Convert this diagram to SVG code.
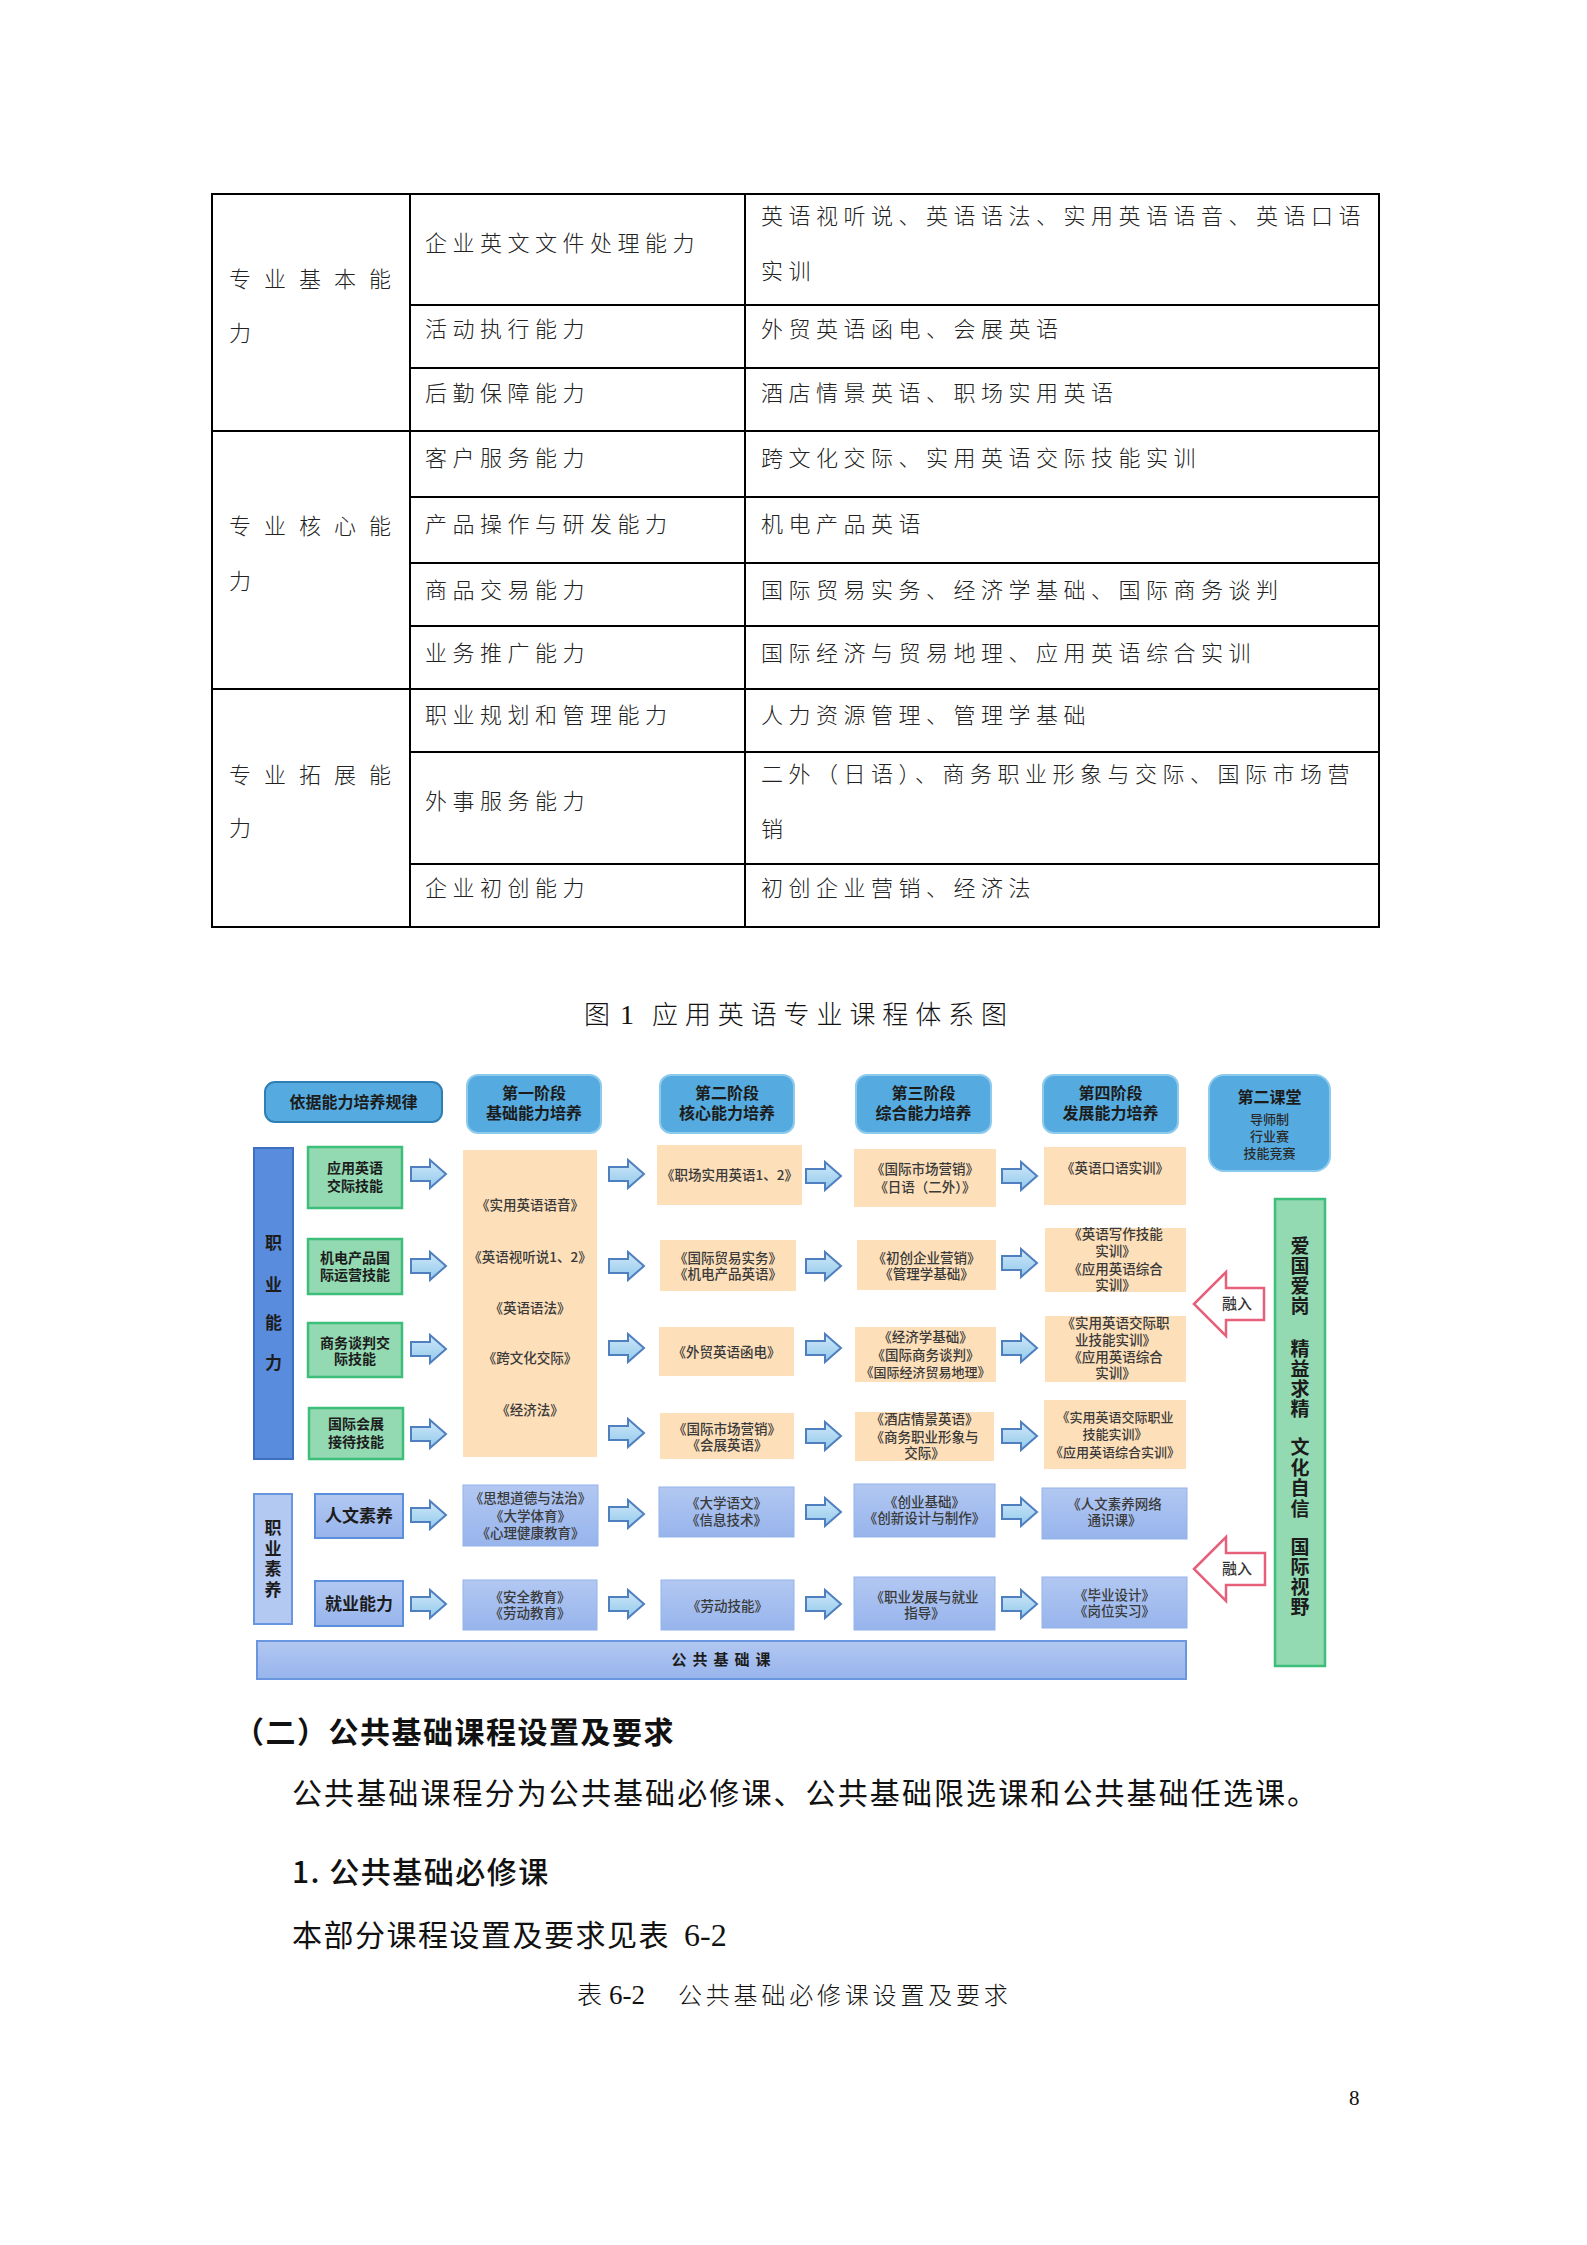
<svg xmlns="http://www.w3.org/2000/svg" xmlns:xlink="http://www.w3.org/1999/xlink" width="1587" height="2245" viewBox="0 0 1587 2245">
<defs>
<style>
.tbl{font-family:"Noto Sans CJK SC","Noto Sans",sans-serif;font-size:22px;font-weight:300;fill:#222;letter-spacing:5.5px}
.c1{letter-spacing:13px}
.hd{font-family:"Noto Sans CJK SC",sans-serif;font-size:16px;font-weight:700;fill:#1c1c1c;text-anchor:middle}
.sm{font-family:"Noto Sans CJK SC",sans-serif;font-size:13px;font-weight:500;fill:#2a2a2a;text-anchor:middle}
.gb{font-family:"Noto Sans CJK SC",sans-serif;font-size:14px;font-weight:700;fill:#1c1c1c;text-anchor:middle}
.cs{font-family:"Noto Sans CJK SC",sans-serif;font-size:13.5px;font-weight:500;fill:#3a3a3a;text-anchor:middle}
.cs13{font-size:13px}
.vt{font-family:"Noto Sans CJK SC",sans-serif;font-size:17px;font-weight:700;fill:#1c1c1c;text-anchor:middle}
.vv{font-family:"Noto Sans CJK SC",sans-serif;font-weight:700;fill:#1c1c1c;writing-mode:vertical-rl}
.body{font-family:"Noto Sans CJK SC",sans-serif;font-size:30px;font-weight:400;fill:#111}
.head{fill:#55abdf;stroke:#8ccaee;stroke-width:2}
.peach{fill:#fddfb9}
.bluebox{fill:url(#gBlue);stroke:#93b3ea;stroke-width:1}
.green{fill:#93d9b2;stroke:#3dbe7a;stroke-width:2.5}
.arr{fill:url(#gArr);stroke:#4f7fbf;stroke-width:2;stroke-linejoin:miter}
.pink{fill:#fff;stroke:#e6607c;stroke-width:2.5}
.rr{font-family:"Noto Sans CJK SC",sans-serif;font-size:15px;font-weight:500;fill:#333;text-anchor:middle}
</style>
<linearGradient id="gBlue" x1="0" y1="0" x2="0" y2="1"><stop offset="0" stop-color="#b2c8f2"/><stop offset="1" stop-color="#97b4ec"/></linearGradient>
<linearGradient id="gArr" x1="0" y1="0" x2="0" y2="1"><stop offset="0" stop-color="#cfe8f8"/><stop offset="1" stop-color="#92c9ec"/></linearGradient>
<path id="bArrow" class="arr" d="M0,-7 H19 V-14 L35,0 L19,14 V7 H0 Z"/>
</defs>
<rect width="1587" height="2245" fill="#fff"/>

<!-- Table -->
<g id="table" stroke="#000" stroke-width="2" fill="none">
<rect x="212" y="194" width="1167" height="733"/>
<line x1="410" y1="194" x2="410" y2="927"/>
<line x1="745" y1="194" x2="745" y2="927"/>
<line x1="212" y1="431" x2="1379" y2="431"/>
<line x1="212" y1="689" x2="1379" y2="689"/>
<line x1="410" y1="305" x2="1379" y2="305"/>
<line x1="410" y1="368" x2="1379" y2="368"/>
<line x1="410" y1="497" x2="1379" y2="497"/>
<line x1="410" y1="563" x2="1379" y2="563"/>
<line x1="410" y1="626" x2="1379" y2="626"/>
<line x1="410" y1="752" x2="1379" y2="752"/>
<line x1="410" y1="864" x2="1379" y2="864"/>
</g>
<g id="table-text">
<text class="tbl c1" x="229" y="287">专业基本能</text>
<text class="tbl" x="229" y="341">力</text>
<text class="tbl c1" x="229" y="534">专业核心能</text>
<text class="tbl" x="229" y="589">力</text>
<text class="tbl c1" x="229" y="783">专业拓展能</text>
<text class="tbl" x="229" y="836">力</text>
<text class="tbl" x="425" y="251">企业英文文件处理能力</text>
<text class="tbl" x="425" y="337">活动执行能力</text>
<text class="tbl" x="425" y="401">后勤保障能力</text>
<text class="tbl" x="425" y="466">客户服务能力</text>
<text class="tbl" x="425" y="532">产品操作与研发能力</text>
<text class="tbl" x="425" y="598">商品交易能力</text>
<text class="tbl" x="425" y="661">业务推广能力</text>
<text class="tbl" x="425" y="723">职业规划和管理能力</text>
<text class="tbl" x="425" y="809">外事服务能力</text>
<text class="tbl" x="425" y="896">企业初创能力</text>
<text class="tbl" x="761" y="224">英语视听说、英语语法、实用英语语音、英语口语</text>
<text class="tbl" x="761" y="279">实训</text>
<text class="tbl" x="761" y="337">外贸英语函电、会展英语</text>
<text class="tbl" x="761" y="401">酒店情景英语、职场实用英语</text>
<text class="tbl" x="761" y="466">跨文化交际、实用英语交际技能实训</text>
<text class="tbl" x="761" y="532">机电产品英语</text>
<text class="tbl" x="761" y="598">国际贸易实务、经济学基础、国际商务谈判</text>
<text class="tbl" x="761" y="661">国际经济与贸易地理、应用英语综合实训</text>
<text class="tbl" x="761" y="723">人力资源管理、管理学基础</text>
<text class="tbl" x="761" y="782">二外（日语）、商务职业形象与交际、国际市场营</text>
<text class="tbl" x="761" y="837">销</text>
<text class="tbl" x="761" y="896">初创企业营销、经济法</text>
</g>

<!-- Figure title -->
<g id="fig-title" fill="#111">
<text x="584" y="1024" style="font-family:'Noto Sans CJK SC',sans-serif;font-size:26px;font-weight:300">图</text>
<text x="620" y="1024" style="font-family:'Liberation Serif',serif;font-size:28px">1</text>
<text x="652" y="1024" style="font-family:'Noto Sans CJK SC',sans-serif;font-size:26px;font-weight:300;letter-spacing:6.9px">应用英语专业课程体系图</text>
</g>

<!-- Diagram nodes -->
<g id="n-basis"><rect x="265" y="1082" width="177" height="40" rx="10" fill="#55abdf" stroke="#2f7fb5" stroke-width="2"/><text class="hd" x="353.5" y="1108">依据能力培养规律</text></g>
<g id="n-stage1"><rect class="head" x="467" y="1075" width="134" height="58" rx="11"/><text class="hd" x="534" y="1099">第一阶段</text><text class="hd" x="534" y="1119">基础能力培养</text></g>
<g id="n-stage2"><rect class="head" x="660" y="1075" width="134" height="58" rx="11"/><text class="hd" x="727" y="1099">第二阶段</text><text class="hd" x="727" y="1119">核心能力培养</text></g>
<g id="n-stage3"><rect class="head" x="856" y="1075" width="135" height="58" rx="11"/><text class="hd" x="923.5" y="1099">第三阶段</text><text class="hd" x="923.5" y="1119">综合能力培养</text></g>
<g id="n-stage4"><rect class="head" x="1043" y="1075" width="135" height="58" rx="11"/><text class="hd" x="1110.5" y="1099">第四阶段</text><text class="hd" x="1110.5" y="1119">发展能力培养</text></g>
<g id="n-second"><rect class="head" x="1209" y="1075" width="121" height="96" rx="15"/><text class="hd" x="1269.5" y="1103">第二课堂</text><text class="sm" x="1269.5" y="1124">导师制</text><text class="sm" x="1269.5" y="1141">行业赛</text><text class="sm" x="1269.5" y="1158">技能竞赛</text></g>

<g id="n-zhiyenengli"><rect x="254" y="1148" width="39" height="311" fill="#5a8cdd" stroke="#3f6fc0" stroke-width="2"/><text class="vt" x="273.5" y="1249">职</text><text class="vt" x="273.5" y="1291">业</text><text class="vt" x="273.5" y="1329">能</text><text class="vt" x="273.5" y="1369">力</text></g>
<g id="n-zhiyesuyang"><rect x="254" y="1494" width="38" height="130" fill="#b3c9f2" stroke="#6a96e0" stroke-width="2"/><text class="vv" x="273" y="1519.5" style="font-size:17px;letter-spacing:3.5px">职业素养</text></g>

<g id="n-skill1"><rect class="green" x="308" y="1147" width="94" height="61"/><text class="gb" x="355" y="1173">应用英语</text><text class="gb" x="355" y="1191">交际技能</text></g>
<g id="n-skill2"><rect class="green" x="308" y="1239" width="94" height="55"/><text class="gb" x="355" y="1263">机电产品国</text><text class="gb" x="355" y="1280">际运营技能</text></g>
<g id="n-skill3"><rect class="green" x="308" y="1323" width="94" height="54"/><text class="gb" x="355" y="1348">商务谈判交</text><text class="gb" x="355" y="1364">际技能</text></g>
<g id="n-skill4"><rect class="green" x="309" y="1408" width="94" height="51"/><text class="gb" x="356" y="1429">国际会展</text><text class="gb" x="356" y="1447">接待技能</text></g>
<g id="n-renwen"><rect x="315" y="1494" width="88" height="44" fill="url(#gBlue)" stroke="#5b8fde" stroke-width="2"/><text class="vt" x="359" y="1522">人文素养</text></g>
<g id="n-jiuye"><rect x="315" y="1581" width="88" height="45" fill="url(#gBlue)" stroke="#5b8fde" stroke-width="2"/><text class="vt" x="359" y="1610">就业能力</text></g>

<g id="n-s1-main"><rect class="peach" x="463" y="1150" width="134" height="307"/>
<text class="cs" x="530" y="1210">《实用英语语音》</text><text class="cs" x="530" y="1262">《英语视听说1、2》</text><text class="cs" x="530" y="1313">《英语语法》</text><text class="cs" x="530" y="1363">《跨文化交际》</text><text class="cs" x="530" y="1415">《经济法》</text></g>
<g id="n-s1-r5"><rect class="bluebox" x="463" y="1485" width="135" height="61"/><text class="cs" x="530.5" y="1503">《思想道德与法治》</text><text class="cs" x="530.5" y="1521">《大学体育》</text><text class="cs" x="530.5" y="1538">《心理健康教育》</text></g>
<g id="n-s1-r6"><rect class="bluebox" x="463" y="1580" width="134" height="50"/><text class="cs" x="530" y="1602">《安全教育》</text><text class="cs" x="530" y="1618">《劳动教育》</text></g>

<g id="n-s2-r1"><rect class="peach" x="657" y="1145" width="145" height="60"/><text class="cs" x="729.5" y="1180">《职场实用英语1、2》</text></g>
<g id="n-s2-r2"><rect class="peach" x="660" y="1240" width="136" height="51"/><text class="cs"><tspan x="728" y="1263">《国际贸易实务》</tspan><tspan x="728" y="1279">《机电产品英语》</tspan></text></g>
<g id="n-s2-r3"><rect class="peach" x="659" y="1327" width="135" height="49"/><text class="cs" x="726.5" y="1357">《外贸英语函电》</text></g>
<g id="n-s2-r4"><rect class="peach" x="660" y="1413" width="134" height="46"/><text class="cs"><tspan x="727" y="1434">《国际市场营销》</tspan><tspan x="727" y="1450">《会展英语》</tspan></text></g>
<g id="n-s2-r5"><rect class="bluebox" x="659" y="1487" width="135" height="50"/><text class="cs" x="726.5" y="1508">《大学语文》</text><text class="cs" x="726.5" y="1525">《信息技术》</text></g>
<g id="n-s2-r6"><rect class="bluebox" x="661" y="1580" width="133" height="50"/><text class="cs" x="727.5" y="1611">《劳动技能》</text></g>

<g id="n-s3-r1"><rect class="peach" x="854" y="1149" width="142" height="58"/><text class="cs" x="925" y="1174">《国际市场营销》</text><text class="cs" x="925" y="1192">《日语（二外）》</text></g>
<g id="n-s3-r2"><rect class="peach" x="857" y="1240" width="139" height="50"/><text class="cs"><tspan x="926.5" y="1263">《初创企业营销》</tspan><tspan x="926.5" y="1279">《管理学基础》</tspan></text></g>
<g id="n-s3-r3"><rect class="peach" x="855" y="1327" width="141" height="55"/><text class="cs" x="925.5" y="1342">《经济学基础》</text><text class="cs" x="925.5" y="1360">《国际商务谈判》</text><text class="cs cs13" x="925.5" y="1377">《国际经济贸易地理》</text></g>
<g id="n-s3-r4"><rect class="peach" x="855" y="1412" width="139" height="49"/><text class="cs" x="924.5" y="1424">《酒店情景英语》</text><text class="cs" x="924.5" y="1442">《商务职业形象与</text><text class="cs" x="924.5" y="1458">交际》</text></g>
<g id="n-s3-r5"><rect class="bluebox" x="854" y="1484" width="141" height="53"/><text class="cs" x="924.5" y="1507">《创业基础》</text><text class="cs" x="924.5" y="1523">《创新设计与制作》</text></g>
<g id="n-s3-r6"><rect class="bluebox" x="854" y="1577" width="141" height="53"/><text class="cs" x="924.5" y="1602">《职业发展与就业</text><text class="cs" x="924.5" y="1618">指导》</text></g>

<g id="n-s4-r1"><rect class="peach" x="1044" y="1147" width="142" height="58"/><text class="cs" x="1115" y="1173">《英语口语实训》</text></g>
<g id="n-s4-r2"><rect class="peach" x="1045" y="1228" width="141" height="64"/><text class="cs" x="1115.5" y="1239">《英语写作技能</text><text class="cs" x="1115.5" y="1256">实训》</text><text class="cs" x="1115.5" y="1274">《应用英语综合</text><text class="cs" x="1115.5" y="1290">实训》</text></g>
<g id="n-s4-r3"><rect class="peach" x="1045" y="1316" width="141" height="66"/><text class="cs" x="1115.5" y="1328">《实用英语交际职</text><text class="cs" x="1115.5" y="1345">业技能实训》</text><text class="cs" x="1115.5" y="1362">《应用英语综合</text><text class="cs" x="1115.5" y="1378">实训》</text></g>
<g id="n-s4-r4"><rect class="peach" x="1044" y="1400" width="142" height="69"/><text class="cs cs13" x="1115" y="1422">《实用英语交际职业</text><text class="cs cs13" x="1115" y="1439">技能实训》</text><text class="cs cs13" x="1115" y="1457">《应用英语综合实训》</text></g>
<g id="n-s4-r5"><rect class="bluebox" x="1042" y="1488" width="145" height="51"/><text class="cs" x="1114.5" y="1509">《人文素养网络</text><text class="cs" x="1114.5" y="1525">通识课》</text></g>
<g id="n-s4-r6"><rect class="bluebox" x="1042" y="1577" width="145" height="51"/><text class="cs" x="1114.5" y="1600">《毕业设计》</text><text class="cs" x="1114.5" y="1616">《岗位实习》</text></g>

<g id="n-public"><rect x="257" y="1641" width="929" height="38" fill="url(#gBlue)" stroke="#6a96e0" stroke-width="2"/><text class="hd" x="724" y="1665" style="font-size:15px;letter-spacing:6px">公共基础课</text></g>

<g id="n-values"><rect x="1275" y="1199" width="50" height="467" fill="#93d9b2" stroke="#3dbe7a" stroke-width="2.5"/>
<text class="vv" x="1300" y="1236.5" style="font-size:19px;letter-spacing:1px">爱国爱岗</text>
<text class="vv" x="1300" y="1339.5" style="font-size:19px;letter-spacing:1px">精益求精</text>
<text class="vv" x="1300" y="1437.5" style="font-size:19px;letter-spacing:1.5px">文化自信</text>
<text class="vv" x="1300" y="1537.5" style="font-size:19px;letter-spacing:1px">国际视野</text>
</g>

<!-- Connectors -->
<g id="connectors">
<use href="#bArrow" x="411" y="1174"/><use href="#bArrow" x="609" y="1174"/><use href="#bArrow" x="806" y="1176"/><use href="#bArrow" x="1002" y="1176"/>
<use href="#bArrow" x="411" y="1266"/><use href="#bArrow" x="609" y="1266"/><use href="#bArrow" x="806" y="1266"/><use href="#bArrow" x="1002" y="1263"/>
<use href="#bArrow" x="411" y="1349"/><use href="#bArrow" x="609" y="1348"/><use href="#bArrow" x="806" y="1348"/><use href="#bArrow" x="1002" y="1348"/>
<use href="#bArrow" x="411" y="1434"/><use href="#bArrow" x="609" y="1433"/><use href="#bArrow" x="806" y="1436"/><use href="#bArrow" x="1002" y="1436"/>
<use href="#bArrow" x="411" y="1515"/><use href="#bArrow" x="609" y="1514"/><use href="#bArrow" x="806" y="1512"/><use href="#bArrow" x="1002" y="1512"/>
<use href="#bArrow" x="411" y="1604"/><use href="#bArrow" x="609" y="1604"/><use href="#bArrow" x="806" y="1604"/><use href="#bArrow" x="1002" y="1604"/>
<g id="merge1"><path class="pink" d="M1194,1304 L1226,1272 L1226,1288 L1264,1288 L1264,1320 L1226,1320 L1226,1336 Z"/><text class="rr" x="1237" y="1309">融入</text></g>
<g id="merge2"><path class="pink" d="M1194,1569 L1226,1537 L1226,1553 L1265,1553 L1265,1585 L1226,1585 L1226,1601 Z"/><text class="rr" x="1237" y="1574">融入</text></g>
</g>

<!-- Body text -->
<g id="body-text">
<text class="body" x="234" y="1743" style="font-weight:700;letter-spacing:1.5px">（二）公共基础课程设置及要求</text>
<text class="body" x="292" y="1804" style="letter-spacing:2.1px">公共基础课程分为公共基础必修课、公共基础限选课和公共基础任选课。</text>
<text class="body" x="292" y="1883" style="font-weight:500;letter-spacing:1.5px">1. 公共基础必修课</text>
<text class="body" x="292" y="1946" style="letter-spacing:1.5px">本部分课程设置及要求见表</text>
<text x="684" y="1946" style="font-family:'Liberation Serif',serif;font-size:32px;fill:#111">6-2</text>
<text x="577" y="2004" style="font-family:'Noto Sans CJK SC',sans-serif;font-size:25px;font-weight:300;fill:#111">表</text>
<text x="609" y="2004" style="font-family:'Liberation Serif',serif;font-size:27px;fill:#111">6-2</text>
<text x="678" y="2004" style="font-family:'Noto Sans CJK SC',sans-serif;font-size:24px;font-weight:300;letter-spacing:3.8px;fill:#111">公共基础必修课设置及要求</text>
<text x="1349" y="2105" style="font-family:'Liberation Serif',serif;font-size:21px;fill:#111">8</text>
</g>
</svg>
